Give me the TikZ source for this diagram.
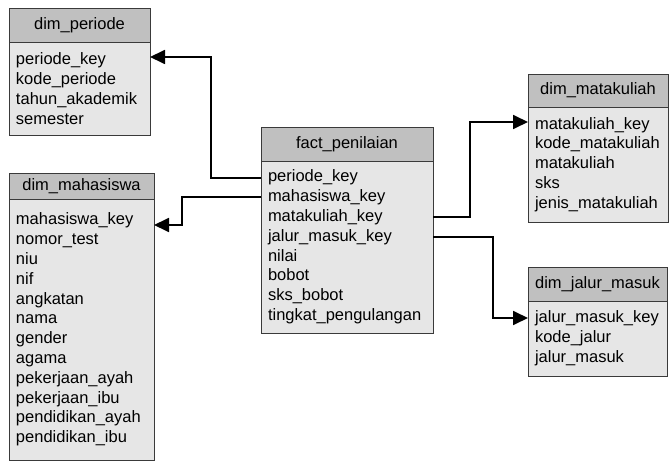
\documentclass[tikz,border=0pt]{standalone}
\usepackage{fontspec}
\setmainfont{Liberation Sans}
\usepackage{xcolor}
\usetikzlibrary{
    arrows.meta,
    positioning
}
\definecolor{headfill}{HTML}{C0C0C0}
\definecolor{bodyfill}{HTML}{E6E6E6}
\definecolor{boxline}{HTML}{3A3A3A}
\newcommand{\tblfont}{\fontsize{16.5pt}{19.8pt}\selectfont}
\tikzset{
    % Table header style
    tblhead/.style={
        rectangle,
        minimum width=#1,
        minimum height=34pt,
        inner sep=0pt,
        outer sep=0pt,
        anchor=north west,
        font=\tblfont,
        draw=boxline,
        fill=headfill,
        line width=0.8pt
    },
    % Table field list style
    tblbody/.style={
        rectangle,
        text width=#1,
        inner xsep=7pt,
        inner ysep=0pt,
        outer sep=0pt,
        align=left,
        font=\tblfont,
        draw=boxline,
        fill=bodyfill,
        line width=0.8pt
    },
    % Foreign key arrow style
    fk/.style={
        -{Triangle[length=15pt, width=14pt]},
        line width=1.8pt,
        color=black
    }
}
\begin{document}
\begin{tikzpicture}[x=1pt, y=-1pt]
        \useasboundingbox (0,0) rectangle (669,462);

        % Dimension tables
        \node[tblhead=141pt] (perh) at (9,8) {dim\_periode};
        \node[tblbody=127pt, minimum height=93pt, below=0pt of perh] (perb)
            {periode\_key\\kode\_periode\\tahun\_akademik\\semester};

        \node[tblhead=145pt, minimum height=26pt] (mhsh) at (9,173) {dim\_mahasiswa};
        \node[tblbody=131pt, minimum height=261pt, below=0pt of mhsh] (mhsb)
            {mahasiswa\_key\\nomor\_test\\niu\\nif\\angkatan\\nama\\gender\\agama\\
             pekerjaan\_ayah\\pekerjaan\_ibu\\pendidikan\_ayah\\pendidikan\_ibu};

        \node[tblhead=140pt, minimum height=33pt] (mkh) at (528,74) {dim\_matakuliah};
        \node[tblbody=126pt, minimum height=115pt, below=0pt of mkh] (mkb)
            {matakuliah\_key\\kode\_matakuliah\\matakuliah\\sks\\jenis\_matakuliah};

        \node[tblhead=139pt] (jmh) at (528,267) {dim\_jalur\_masuk};
        \node[tblbody=125pt, minimum height=75pt, below=0pt of jmh] (jmb)
            {jalur\_masuk\_key\\kode\_jalur\\jalur\_masuk};

        % Fact table
        \node[tblhead=172pt] (facth) at (261,127) {fact\_penilaian};
        \node[tblbody=158pt, minimum height=172pt, below=0pt of facth] (factb)
            {periode\_key\\mahasiswa\_key\\matakuliah\_key\\jalur\_masuk\_key\\
             nilai\\bobot\\sks\_bobot\\tingkat\_pengulangan};

        % Key references
        \draw[fk] ([yshift=-17pt]factb.north west) -- ++(-50,0) |- ([yshift=-15pt]perb.north east);
        \draw[fk] ([yshift=-36pt]factb.north west) -- ++(-79,0) |- ([yshift=-26pt]mhsb.north east);
        \draw[fk] ([yshift=-56pt]factb.north east) -- ++(37,0) |- ([yshift=-15pt]mkb.north west);
        \draw[fk] ([yshift=-76pt]factb.north east) -- ++(60,0) |- ([yshift=-17pt]jmb.north west);

    \end{tikzpicture}
\end{document}
